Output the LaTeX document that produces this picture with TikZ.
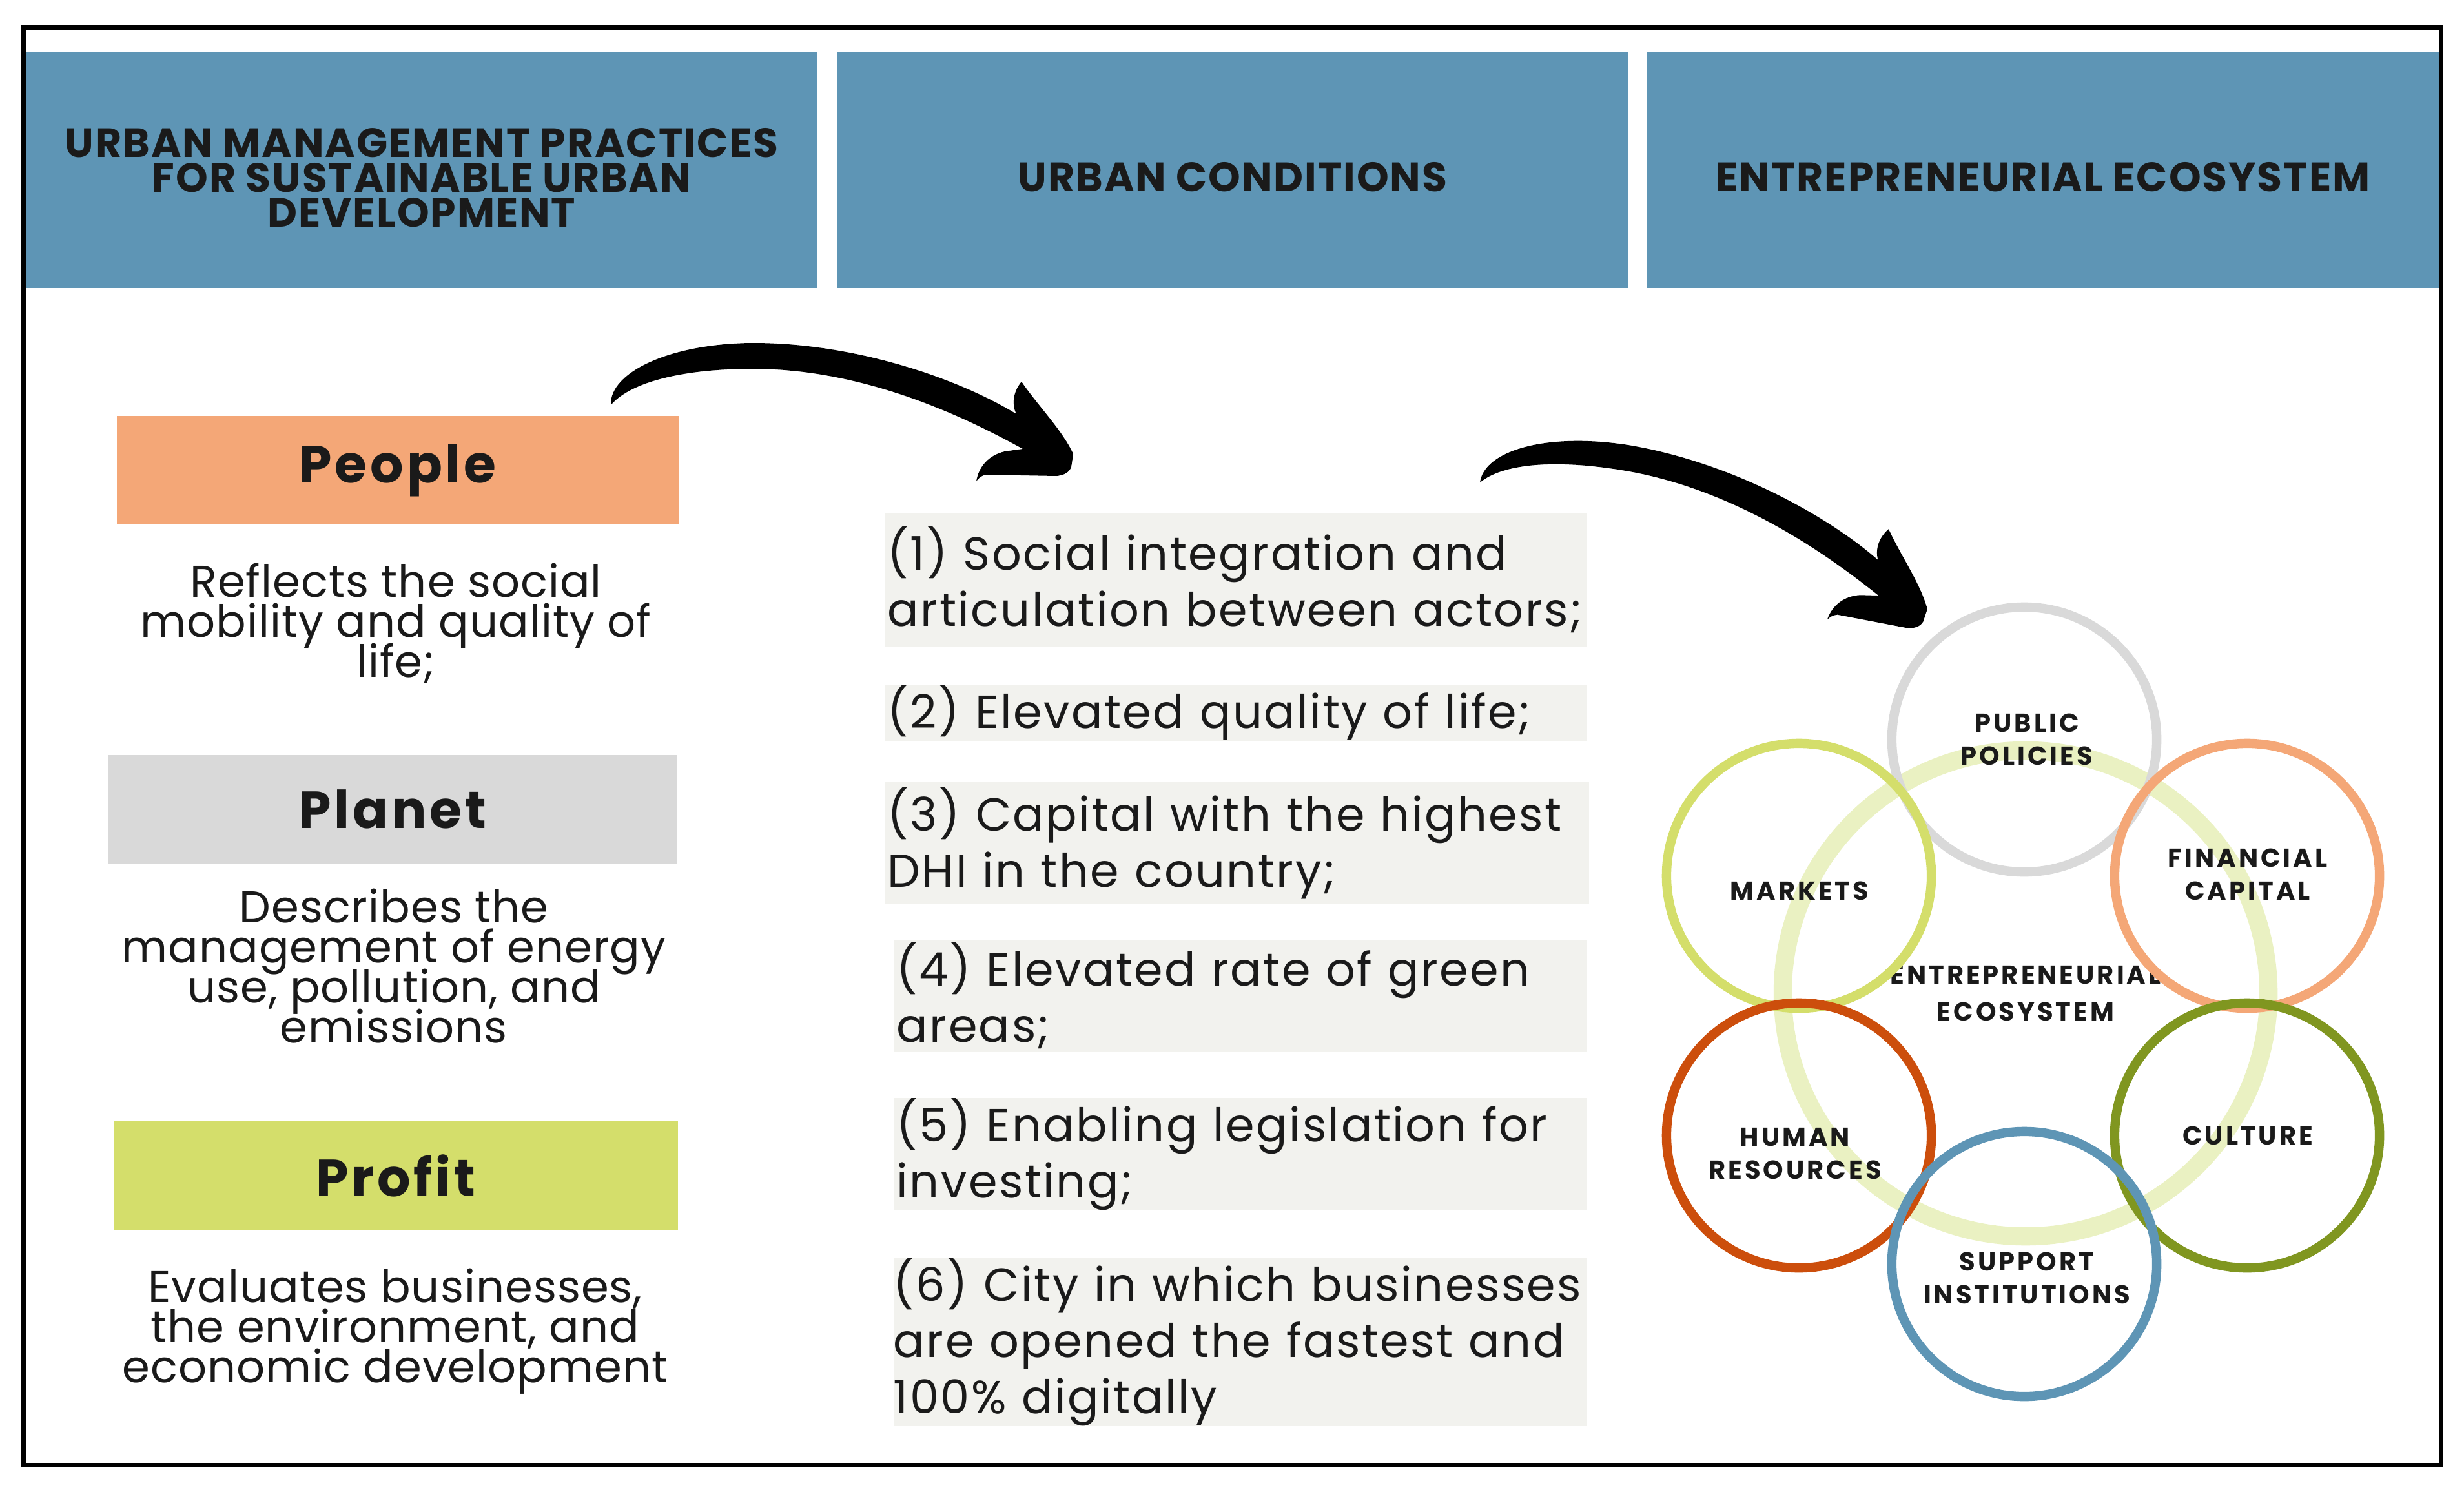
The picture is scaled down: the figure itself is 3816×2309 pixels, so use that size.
\documentclass[tikz,border=0pt]{standalone}
\usepackage{fontspec}
\setmainfont{Poppins}
\newfontfamily\headfont{Poppins}[LetterSpace=3]
\newfontfamily\pillarfont{Poppins}[LetterSpace=6]
\newfontfamily\descfont{Poppins}[LetterSpace=1.5]
\newfontfamily\condfont{Poppins}[LetterSpace=3.5]
\newfontfamily\ecofont{Poppins}[LetterSpace=10]
\usetikzlibrary{positioning}
\definecolor{headblue}{RGB}{94,149,181}
\definecolor{peopleC}{RGB}{244,167,119}
\definecolor{planetC}{RGB}{217,217,217}
\definecolor{profitC}{RGB}{212,222,107}
\definecolor{condgray}{RGB}{242,242,238}
\definecolor{ink}{RGB}{26,26,26}
\definecolor{ringC}{RGB}{234,241,194}
\definecolor{humanC}{RGB}{204,78,12}
\definecolor{cultureC}{RGB}{128,150,32}
\lineskiplimit=-\maxdimen
\hyphenpenalty=10000
\tikzstyle{head}=[fill=headblue, minimum width=12.26cm, minimum height=3.66cm, inner sep=0pt, text height=0.68cm, align=center, text=ink, font=\headfont\bfseries\fontsize{18}{15.4}\selectfont]
\tikzstyle{desc}=[anchor=base, align=center, inner sep=0pt, text=ink, font=\descfont\fontsize{19.6}{17.6}\selectfont]
\tikzstyle{cond}=[anchor=north west, fill=condgray, text width=10.78cm, inner xsep=0.05cm, inner ysep=0pt, align=left, text=ink, font=\condfont\fontsize{20.4}{24.75}\selectfont]
\tikzstyle{ecotext}=[anchor=base, align=center, inner sep=0pt, text=ink, font=\ecofont\bfseries\fontsize{11.4}{14.4}\selectfont]
\tikzset{
  pillar/.style={fill=#1, minimum width=8.7cm, minimum height=1.68cm, inner sep=0pt, text=ink, font=\pillarfont\bfseries\fontsize{23}{23}\selectfont},
  eco/.style={circle, draw=#1, line width=4.1pt, minimum size=4.1cm, inner sep=0pt},
  brusharrow/.pic={
    \fill[black] (0,0) .. controls (-2,-50) and (90,-95) .. (220,-96)
      .. controls (380,-96) and (540,-40) .. (628,14)
      .. controls (620,-2) and (624,-22) .. (636,-36)
      .. controls (662,2) and (700,40) .. (716,76)
      -- (713,96) .. controls (710,104) and (702,109) .. (690,110)
      -- (580,108) .. controls (573,110) and (569,114) .. (566,118)
      .. controls (570,95) and (585,78) .. (610,72) -- (638,68)
      .. controls (560,25) and (400,-56) .. (220,-56)
      .. controls (110,-56) and (30,-35) .. (0,0) -- cycle;
  }
}

\begin{document}
\begin{tikzpicture}[x=0.01cm, y=-0.01cm]
	\useasboundingbox (0,0) rectangle (3816,2309);
	\draw[line width=2pt] (37,42) rectangle (3780,2268);

	% column heads
	\node[head, text height=1.78cm] (H1) at (653,263) {URBAN MANAGEMENT PRACTICES\\FOR SUSTAINABLE URBAN\\DEVELOPMENT};
	\node[head] (H2) at (1909,263) {URBAN CONDITIONS};
	\node[head, minimum width=12.25cm] (H3) at (3164,263) {ENTREPRENEURIAL ECOSYSTEM};

	% triple bottom line
	\node[pillar=peopleC] (people) at (616,728) {People};
	\node[pillar=planetC, minimum width=8.8cm] (planet) at (608,1253) {Planet};
	\node[pillar=profitC, minimum width=8.74cm] (profit) at (613,1820) {Profit};
	\node[desc] (peopleD) at (613,1048) {Reflects the social\\mobility and quality of\\life;};
	\node[desc] (planetD) at (610,1614) {Describes the\\management of energy\\use, pollution, and\\emissions};
	\node[desc] (profitD) at (612,2140) {Evaluates businesses,\\the environment, and\\economic development};

	% urban conditions
	\node[cond, minimum height=2.07cm] (C1) at (1369,793) {(1) Social integration and\\articulation between actors;};
	\node[cond, minimum height=0.86cm] (C2) at (1369,1060) {(2) Elevated quality of life;};
	\node[cond, minimum height=1.89cm, text width=10.81cm] (C3) at (1369,1210) {(3) Capital with the highest\\DHI in the country;};
	\node[cond, minimum height=1.73cm, text width=10.64cm] (C4) at (1383,1454) {(4) Elevated rate of green\\areas;};
	\node[cond, minimum height=1.74cm, text width=10.64cm] (C5) at (1383,1699) {(5) Enabling legislation for\\investing;};
	\node[cond, minimum height=2.53cm, text width=10.74cm, inner xsep=0pt] (C6) at (1383,1947) {(6) City in which businesses\\are opened the fastest and\\100\% digitally};

	% ecosystem
	\node[circle, draw=ringC, line width=8pt, minimum size=7.52cm, inner sep=0pt, text=ink, align=center, font=\ecofont\bfseries\fontsize{11.4}{16}\selectfont] (eco) at (3137,1538) {ENTREPRENEURIAL\\ECOSYSTEM};
	\node[eco=planetC] (pol) at (3135,1145) {};
	\node[eco=profitC] (mkt) at (2786,1356) {};
	\node[eco=peopleC] (fin) at (3480,1356) {};
	\node[eco=humanC] (hum) at (2786,1758) {};
	\node[eco=cultureC] (cul) at (3480,1758) {};
	\node[eco=headblue] (sup) at (3135,1957) {};
	\node[ecotext] (polT) at (3139,1184) {PUBLIC\\POLICIES};
	\node[ecotext] (mktT) at (2787,1393) {MARKETS};
	\node[ecotext] (finT) at (3481,1393) {FINANCIAL\\CAPITAL};
	\node[ecotext] (humT) at (2780,1825) {HUMAN\\RESOURCES};
	\node[ecotext] (culT) at (3481,1772) {CULTURE};
	\node[ecotext] (supT) at (3139,2018) {SUPPORT\\INSTITUTIONS};

	% arrows
	\coordinate (arrA) at (946,627);
	\coordinate (arrB) at (2292,747);
	\pic at (arrA) {brusharrow};
	\pic[rotate=-9.75] at (arrB) {brusharrow};
\end{tikzpicture}
\end{document}
